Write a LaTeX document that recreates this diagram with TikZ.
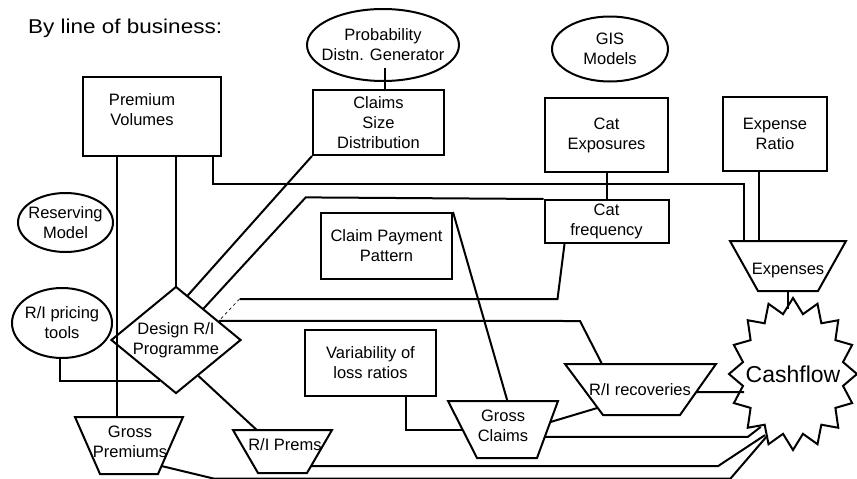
\documentclass[tikz,border=0pt]{standalone}
\usepackage{fontspec}
\setmainfont{Liberation Sans}
\usetikzlibrary{shapes.geometric,calc}

\newcommand\lbl{\fontsize{16.5}{20}\selectfont}
\newcommand\zw[1]{\makebox[0pt]{#1}}

\tikzset{
  line/.style={line width=2pt},
  box/.style={draw, line width=2pt, rectangle, inner sep=0pt, align=center, font=\lbl},
  ell/.style={draw, line width=2pt, ellipse, inner sep=0pt, align=center, font=\lbl},
  lbl/.style={inner sep=0pt, align=center, font=\lbl},
}

% inverted trapezium: name, top-left, top-right, bottom-right, bottom-left, label position, label
\newcommand\trapnode[7]{%
  \coordinate (#1-tl) at #2;
  \coordinate (#1-tr) at #3;
  \coordinate (#1-br) at #4;
  \coordinate (#1-bl) at #5;
  \draw[line] (#1-tl) -- (#1-tr) -- (#1-br) -- (#1-bl) -- cycle;
  \node[lbl] (#1) at #6 {#7};
}

\begin{document}
\begin{tikzpicture}[x=1pt, y=-1pt]
\useasboundingbox (0,0) rectangle (857,479);
\clip (0,0) rectangle (857,479);

% heading
\node[anchor=base west, inner sep=0pt, font=\fontsize{20}{24}\selectfont] (title) at (28,34)
  {\scalebox{1.125}[1]{By line of business:}};

% inputs
\node[box, minimum width=138pt, minimum height=79pt] (pv) at (152,116.5) {};
\node[lbl] (pvtext) at (142,110) {Premium\\Volumes};
\node[ell, minimum width=152pt, minimum height=72pt] (prob) at (383,45)
  {\zw{Probability}\\\zw{Distn. Generator}};
\node[box, minimum width=131pt, minimum height=65pt] (csd) at (378.5,122.5)
  {Claims\\Size\\Distribution};
\node[ell, minimum width=116pt, minimum height=65pt] (gis) at (610,49) {\zw{GIS}\\\zw{Models}};
\node[box, minimum width=123pt, minimum height=74pt] (cx) at (606.5,135) {Cat\\Exposures};
\node[box, minimum width=104pt, minimum height=74pt] (er) at (775,134) {Expense\\Ratio};
\node[box, minimum width=124pt, minimum height=43pt] (cf) at (606.5,221.5) {Cat\\frequency};
\node[box, minimum width=131pt, minimum height=66pt] (cpp) at (386.5,246) {Claim Payment\\Pattern};
\node[box, minimum width=131pt, minimum height=66pt] (var) at (370.5,363) {Variability of\\loss ratios};
\node[ell, minimum width=95pt, minimum height=59pt] (res) at (65.5,222.5) {\zw{Reserving}\\\zw{Model}};
\node[ell, minimum width=100pt, minimum height=70pt] (rpt) at (62,323) {\zw{R/I pricing}\\\zw{tools}};
\node[draw, line width=2pt, diamond, aspect=1.215, inner sep=0pt, align=center, font=\lbl,
      minimum width=130pt, minimum height=107pt] (dia) at (176,340) {Design R/I\\Programme};

% flows
\trapnode{ex}{(730,241)}{(846,241)}{(818,291)}{(758,291)}{(788,271)}{Expenses}
\trapnode{gp}{(75,417)}{(183,417)}{(158,474)}{(100,474)}{(130,442)}{Gross\\Premiums}
\trapnode{rip}{(233,430)}{(332,430)}{(307,473)}{(258,473)}{(285,445)}{R/I Prems}
\trapnode{gc}{(448,401)}{(558,401)}{(537,458)}{(477,458)}{(503,426)}{Gross\\Claims}
\trapnode{ri}{(565,364)}{(716,364)}{(680,415)}{(603,415)}{(640,390)}{R/I recoveries}

% result
\node[inner sep=0pt, font=\fontsize{23}{26}\selectfont] (cash) at (793,374) {Cashflow};
\draw[line, shift={(cash.center)}]
  plot[samples at={0,...,31}]
  ({ifthenelse(mod(\x,2)==0,64,51)*cos(\x*11.25)}, {ifthenelse(mod(\x,2)==0,76,61)*sin(\x*11.25)})
  -- cycle;

% connectors
\draw[line] ($(prob.center)+(2,23)$) -- ++(0,22);
\path ($(pv.south)+(-35,0)$) coordinate (pvA);
\draw[line] (pvA) -- (pvA |- gp-tl);
\draw[line] (dia.north |- pv.south) -- (dia.north);
\path ($(pv.south east)+(-9,0)$) coordinate (pvC);
\path ($(ex-tl)!0.12!(ex-tr)$) coordinate (exA);
\draw[line] (pvC) -- ++(0,27) -| (exA);
\path ($(ex-tl)!0.25!(ex-tr)$) coordinate (exB);
\draw[line] (exB |- er.south) -- (exB);
\draw[line] (cx.south) -- (cf.north);

\draw[line] (csd.south west) -- ($(dia.north)!0.18!(dia.east)$);
\draw[line] ($(dia.north)!0.42!(dia.east)$) -- ++(102,-111) -- (cf.north west);

\path ($(dia.north)!0.65!(dia.east)$) coordinate (p1);
\path ($(cf.south west)+(21,0)$) coordinate (cfA);
\draw[line] (cfA) -- ++(-7,55) -- ++(-318,0) coordinate (kink);
\draw[line width=0.6pt, dashed] (kink) -- (p1);
\draw[line] (p1) -- ($(ri-tl)+(15,-43)$) -- ($(ri-tl)+(37,0)$);

\draw[line] (cpp.north east) -- ($(gc-tl)!0.54!(gc-tr)$);
\path ($(var.south)+(35.5,0)$) coordinate (varA);
\path ($(gc-tl)!0.51!(gc-bl)$) coordinate (gcL);
\draw[line] (varA) |- (gcL);
\draw[line] ($(gc-tr)!0.37!(gc-br)$) -- ($(ri-tl)!0.86!(ri-bl)$);

\draw[line] ($(ri-tr)!0.55!(ri-br)$) -- ($(cash.center)+(-49,18)$);
\draw[line] ($(gc-tr)!0.63!(gc-br)$) -- ++(203,0) -- ++(13,-10);
\draw[line] ($(rip-tr)!0.84!(rip-br)$) -- ++(407,0) -- ++(47,-31);
\draw[line] ($(gp-tr)!0.86!(gp-br)$) -- ++(52,12.5) -- ++(517,0) -- ++(37,-43);
\draw[line] ($(ex-bl)!0.5!(ex-br)$) -- ++(0,18);

\path ($(dia.west)!0.76!(dia.south)$) coordinate (diaL);
\draw[line] (diaL) -| ($(rpt.south)+(-2,0)$);
\draw[line] ($(dia.east)!0.66!(dia.south)$) -- ($(rip-tl)!0.24!(rip-tr)$);
\end{tikzpicture}
\end{document}
